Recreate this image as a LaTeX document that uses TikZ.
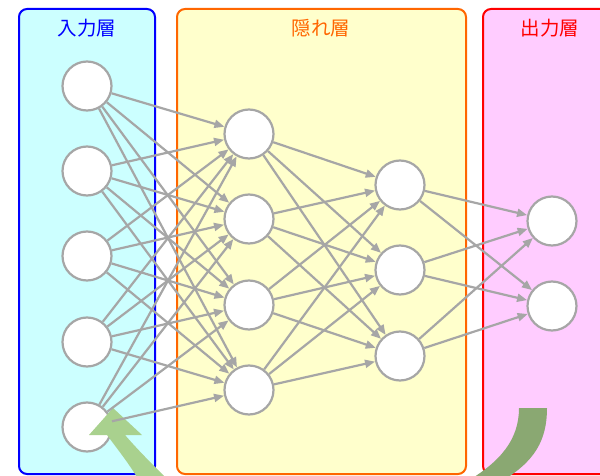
\documentclass[tikz,border=0pt]{standalone}
\usepackage{fontspec}
\newfontfamily\jpfont{Noto Sans CJK JP}
\usetikzlibrary{arrows.meta}
\definecolor{inBorder}{HTML}{0000FF}
\definecolor{inFill}{HTML}{CCFFFF}
\definecolor{hidBorder}{HTML}{FF6600}
\definecolor{hidFill}{HTML}{FFFFCC}
\definecolor{outBorder}{HTML}{FF0000}
\definecolor{outFill}{HTML}{FFCCFF}
\definecolor{edgeGray}{HTML}{A6A6A6}
\definecolor{backLight}{HTML}{A9D18E}
\definecolor{backDark}{HTML}{8AA872}
\tikzset{
  panel/.style={line width=2pt, rounded corners=8pt},
  title/.style={font=\jpfont\fontsize{19.5}{20}\selectfont, anchor=center},
  neuron/.style={circle, draw=edgeGray, fill=white, line width=2.2pt,
    minimum size=49pt, inner sep=0pt},
  link/.style={draw=edgeGray, line width=2.2pt,
    -{Triangle[length=10pt,width=8pt]}},
}
\begin{document}
\begin{tikzpicture}[x=1pt,y=-1pt]
\useasboundingbox (0,0) rectangle (600,476);
\begin{scope}
\clip (0,0) rectangle (600,476);
% layer panels
\draw[panel, draw=inBorder, fill=inFill] (19,9) rectangle (155,474);
\draw[panel, draw=hidBorder, fill=hidFill] (177,9) rectangle (466,474);
\draw[panel, draw=outBorder, fill=outFill] (483,9) rectangle (630,474);
% panel titles
\node[title, text=inBorder] (tin) at (87,28) {入力層};
\node[title, text=hidBorder] (thid) at (321,28) {隠れ層};
\node[title, text=outBorder] (tout) at (550,28) {出力層};
% neurons
\foreach \k/\y in {1/86,2/171,3/256,4/342,5/427}
  \node[neuron] (i\k) at (87,\y) {};
\foreach \k/\y in {1/134,2/219,3/305,4/390}
  \node[neuron] (a\k) at (249,\y) {};
\foreach \k/\y in {1/185,2/270,3/356}
  \node[neuron] (b\k) at (400,\y) {};
\foreach \k/\y in {1/221,2/306}
  \node[neuron] (o\k) at (552,\y) {};
% feedback band leaving the output side
\fill[backDark] (519,408) -- (547,408)
  .. controls (547,440) and (535,462) .. (500,482)
  -- (466,482)
  .. controls (500,462) and (519,440) .. cycle;
% feedback band returning to the input side
\fill[backLight] (125,435)
  .. controls (138,450) and (150,462) .. (170,482)
  -- (140,482)
  .. controls (128,462) and (118,450) .. (107,435)
  -- (89,435) -- (113,408) -- (142,435) -- cycle;
% fully connected links
\foreach \s in {1,...,5}
  \foreach \t in {1,...,4}
    \draw[link] (i\s) -- (a\t);
\foreach \s in {1,...,4}
  \foreach \t in {1,...,3}
    \draw[link] (a\s) -- (b\t);
\foreach \s in {1,...,3}
  \foreach \t in {1,2}
    \draw[link] (b\s) -- (o\t);
\end{scope}
\end{tikzpicture}
\end{document}
